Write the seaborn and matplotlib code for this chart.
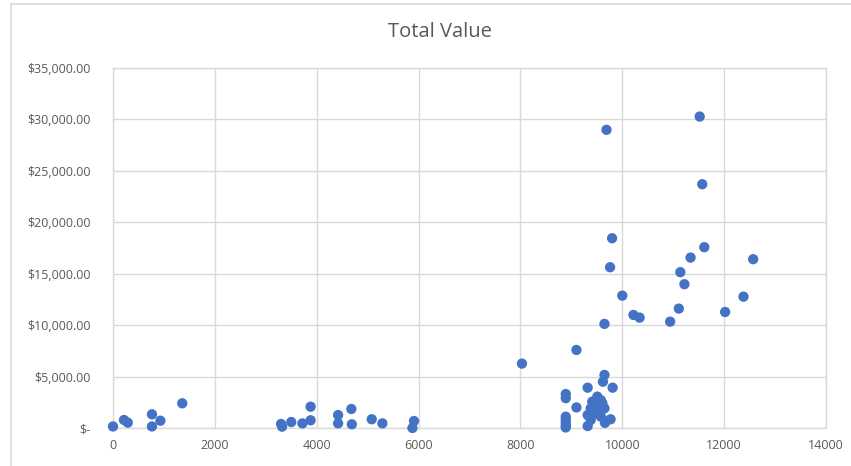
import matplotlib
matplotlib.use("Agg")
import matplotlib.pyplot as plt
import matplotlib.ticker as mticker
from matplotlib.lines import Line2D
import seaborn as sns
import pandas as pd

# Data
x_vals = [0, 216, 290, 765, 765, 930, 1360,
          3300, 3320, 3500, 3720, 3880, 3880, 4420, 4420, 4680, 4690, 5080, 5290, 5880, 5910,
          8030, 9100, 9650, 9620, 9810, 9320, 8890, 8890, 9100,
          8890, 8890, 8890, 8890, 8890, 9320, 9660, 9770,
          9510, 9580, 9410, 9610, 9380, 9650, 9320, 9480, 9380, 9580, 9450, 9520,
          9690, 11520, 11570, 9800, 9760, 11610, 11340, 12570, 11140, 11220,
          10000, 12380, 10220, 10340, 11110, 12020, 10940, 9650]
y_vals = [150, 780, 520, 1330, 150, 710, 2400,
          390, 130, 580, 450, 2070, 750, 1260, 450, 1850, 360, 850, 450, 0, 680,
          6260, 7590, 5160, 4500, 3920, 3920, 3300, 2900, 2000,
          1100, 800, 500, 250, 50, 190, 500, 850,
          3050, 2700, 2560, 2400, 1910, 1910, 1260, 1420, 780, 1100, 2100, 1700,
          28990, 30280, 23700, 18450, 15630, 17580, 16570, 16410, 15150, 13980,
          12870, 12770, 10990, 10730, 11610, 11280, 10340, 10120]

title_text = "Total Value"
x_ticks = [0, 2000, 4000, 6000, 8000, 10000, 12000, 14000]
y_ticks = [0, 5000, 10000, 15000, 20000, 25000, 30000, 35000]

df = pd.DataFrame({"x": x_vals, "y": y_vals})

sns.set_theme(style="white")
plt.rcParams["font.family"] = ["Open Sans", "DejaVu Sans"]

fig = plt.figure(figsize=(8.51, 4.66), dpi=100)
ax = fig.add_axes([113 / 851, (466 - 428) / 466, (826 - 113) / 851, (428 - 68) / 466])

sns.scatterplot(data=df, x="x", y="y", ax=ax, color="#4472C4", s=55,
                edgecolor="none", linewidth=0, zorder=3, clip_on=False)

ax.set_xlim(0, 14000)
ax.set_ylim(0, 35000)
ax.set_xticks(x_ticks)
ax.set_yticks(y_ticks)

def money(v, pos):
    if v == 0:
        return "$-"
    return "${:,.2f}".format(v)

ax.yaxis.set_major_formatter(mticker.FuncFormatter(money))
ax.xaxis.set_major_formatter(mticker.FuncFormatter(lambda v, p: f"{int(v)}"))

ax.grid(True, color="#D9D9D9", linewidth=1.0)
ax.set_axisbelow(True)
for s in ax.spines.values():
    s.set_visible(True)
    s.set_color("#D9D9D9")
    s.set_linewidth(1.0)

ax.tick_params(axis="both", length=0, labelsize=9, labelcolor="#595959")
ax.tick_params(axis="x", pad=8)
ax.tick_params(axis="y", pad=16)
for lab in ax.get_yticklabels():
    lab.set_fontsize(9)
ax.set_xlabel("")
ax.set_ylabel("")

fig.text(440 / 851, (466 - 32) / 466, title_text, ha="center", va="center",
         fontsize=14.5, color="#595959")

# Chart area border (top and left edges visible)
fig.add_artist(Line2D([11 / 851, 1.0], [1 - 4 / 466, 1 - 4 / 466],
                      transform=fig.transFigure, color="#D9D9D9", linewidth=1.2))
fig.add_artist(Line2D([11 / 851, 11 / 851], [0, 1 - 4 / 466],
                      transform=fig.transFigure, color="#D9D9D9", linewidth=1.2))

fig.savefig("out.png", dpi=100, facecolor="white")
